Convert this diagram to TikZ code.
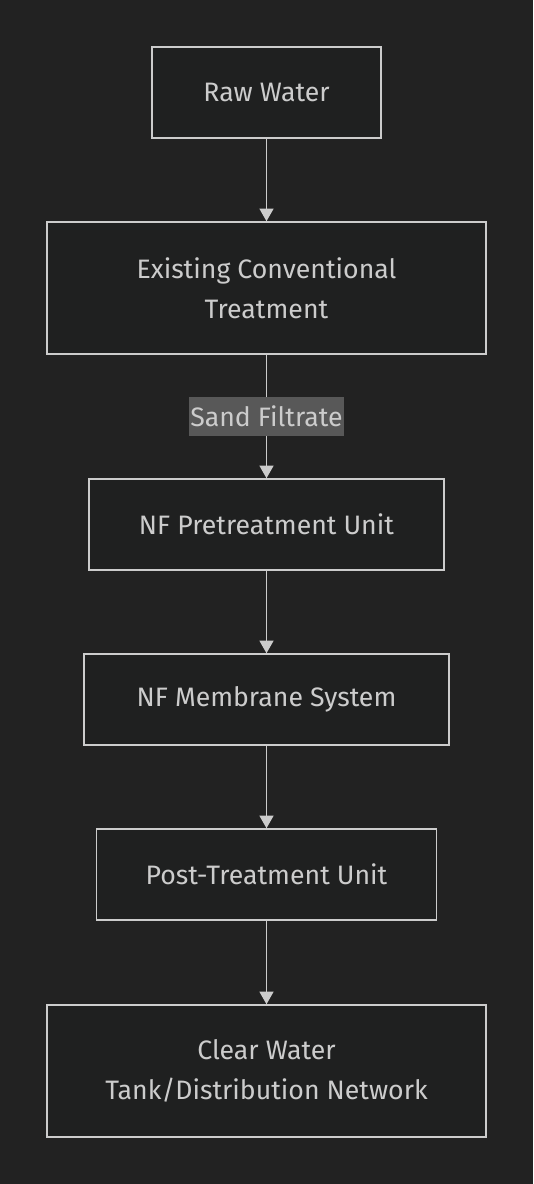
\documentclass[tikz,border=0pt]{standalone}
\usepackage{fontspec}
\setmainfont{Fira Sans}
\usetikzlibrary{arrows.meta}
\definecolor{bg}{HTML}{222222}
\definecolor{boxfill}{HTML}{1F2020}
\definecolor{fg}{HTML}{CCCCCC}
\definecolor{lblbg}{HTML}{585858}
\tikzset{
  px/.style={x=0.75pt,y=-0.75pt},
  procbox/.style={draw=fg, fill=boxfill, line width=1.1pt, text=fg, inner sep=0pt, align=center,
    font=\fontsize{20pt}{30pt}\selectfont},
  flow/.style={draw=fg, line width=1.1pt, -{Triangle[length=9.5pt,width=10.5pt]}},
  lbl/.style={fill=lblbg, text=fg, inner sep=0pt, font=\fontsize{20pt}{30pt}\selectfont}
}
\begin{document}
\begin{tikzpicture}[px]
\fill[bg] (0,0) rectangle (533,1184);
\useasboundingbox (0,0) rectangle (533,1184);
\node[procbox, minimum width=229*0.75pt, minimum height=91*0.75pt] (raw) at (266.5,92.5) {Raw Water};
\node[procbox, minimum width=439*0.75pt, minimum height=132*0.75pt] (ect) at (266.5,288) {Existing Conventional\\Treatment};
\node[procbox, minimum width=355*0.75pt, minimum height=91*0.75pt] (pre) at (266.5,524.5) {NF Pretreatment Unit};
\node[procbox, minimum width=365*0.75pt, minimum height=91*0.75pt] (mem) at (266.5,699.5) {NF Membrane System};
\node[procbox, minimum width=340*0.75pt, minimum height=91*0.75pt] (post) at (266.5,874.5) {Post-Treatment Unit};
\node[procbox, minimum width=439*0.75pt, minimum height=132*0.75pt] (tank) at (266.5,1071) {Clear Water\\Tank/Distribution Network};
\draw[flow] (raw) -- (ect);
\draw[flow] (ect) -- node[lbl, minimum width=155*0.75pt, minimum height=39*0.75pt] (sf) {Sand Filtrate} (pre);
\draw[flow] (pre) -- (mem);
\draw[flow] (mem) -- (post);
\draw[flow] (post) -- (tank);
\end{tikzpicture}
\end{document}
